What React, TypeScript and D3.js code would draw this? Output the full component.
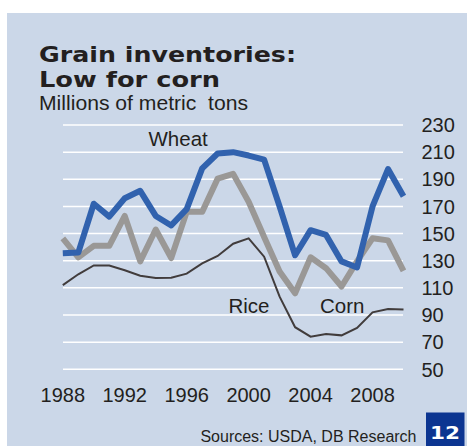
import React, { useEffect, useRef } from "react";
import * as d3 from "d3";

const years = d3.range(1988, 2011);
const wheat = [135.5, 136, 172, 162.5, 176, 181.5, 163, 156, 168, 198, 209, 210, 207.5, 204.5, 170, 134, 152.5, 149, 129.5, 125, 170, 197.5, 177.5];
const corn = [146.5, 132.5, 141, 141, 163, 129.5, 153, 132, 166, 166, 190.5, 194, 173.5, 147.5, 122, 106, 132.5, 124.5, 111, 129.5, 146.5, 145, 122.5];
const rice = [112, 120, 126.5, 126.5, 123, 119, 117.3, 117.5, 120.5, 128, 133.5, 142.5, 146.5, 133, 103.5, 81, 74, 76, 75, 80.5, 92, 94.5, 94];
const yTicks = [230, 210, 190, 170, 150, 130, 110, 90, 70, 50];
const xTicks = [1988, 1992, 1996, 2000, 2004, 2008];

export default function App() {
  const ref = useRef(null);

  useEffect(() => {
    const width = 467;
    const height = 446;
    d3.select(ref.current).select("svg").remove();

    const svg = d3
      .select(ref.current)
      .append("svg")
      .attr("width", width)
      .attr("height", height)
      .style("position", "absolute")
      .style("left", 0)
      .style("top", 0)
      .style("font-family", "'Liberation Sans', Arial, sans-serif");

    svg.append("rect").attr("width", width).attr("height", height).attr("fill", "#ffffff");
    svg.append("rect").attr("x", 7).attr("y", 13).attr("width", width - 7).attr("height", height - 13).attr("fill", "#cbd7e8");

    const x = d3.scaleLinear().domain([1988, 2010]).range([62.8, 403.5]);
    const y = d3.scaleLinear().domain([50, 230]).range([369.3, 125]);

    // gridlines
    svg
      .selectAll("line.grid")
      .data(yTicks)
      .enter()
      .append("line")
      .attr("x1", 63)
      .attr("x2", 403)
      .attr("y1", (d) => y(d))
      .attr("y2", (d) => y(d))
      .attr("stroke", "#ffffff")
      .attr("stroke-width", 1.5);

    // y labels
    svg
      .selectAll("text.ytick")
      .data(yTicks)
      .enter()
      .append("text")
      .attr("x", 421.5)
      .attr("y", (d) => y(d))
      .attr("dy", "0.36em")
      .attr("font-size", 20)
      .attr("fill", "#231f20")
      .text((d) => d);

    // x labels
    svg
      .selectAll("text.xtick")
      .data(xTicks)
      .enter()
      .append("text")
      .attr("x", (d) => x(d))
      .attr("y", 402)
      .attr("text-anchor", "middle")
      .attr("font-size", 20)
      .attr("fill", "#231f20")
      .text((d) => d);

    const line = d3
      .line<number>()
      .x((_, i) => x(years[i]))
      .y((d) => y(d));

    svg.append("path").attr("d", line(rice)).attr("fill", "none").attr("stroke", "#413c3c").attr("stroke-width", 2);
    svg.append("path").attr("d", line(corn)).attr("fill", "none").attr("stroke", "#9a9896").attr("stroke-width", 6).attr("stroke-linejoin", "round");
    svg.append("path").attr("d", line(wheat)).attr("fill", "none").attr("stroke", "#3162ae").attr("stroke-width", 6).attr("stroke-linejoin", "round");

    // series labels
    const labels = [
      { t: "Wheat", x: 148.5, y: 146 },
      { t: "Rice", x: 228.5, y: 313.3 },
      { t: "Corn", x: 320, y: 313.3 },
    ];
    labels.forEach((l) => {
      svg.append("text").attr("x", l.x).attr("y", l.y).attr("font-size", 20.5).attr("fill", "#231f20").text(l.t);
    });

    // title
    svg
      .append("text")
      .attr("x", 39)
      .attr("y", 62)
      .attr("font-family", "'DejaVu Sans', sans-serif")
      .attr("font-weight", "bold")
      .attr("font-size", 22)
      .attr("textLength", 257)
      .attr("lengthAdjust", "spacingAndGlyphs")
      .attr("fill", "#231f20")
      .text("Grain inventories:");
    svg
      .append("text")
      .attr("x", 39)
      .attr("y", 86.5)
      .attr("font-family", "'DejaVu Sans', sans-serif")
      .attr("font-weight", "bold")
      .attr("font-size", 22)
      .attr("textLength", 181)
      .attr("lengthAdjust", "spacingAndGlyphs")
      .attr("fill", "#231f20")
      .text("Low for corn");
    svg
      .append("text")
      .attr("x", 39)
      .attr("y", 110)
      .attr("font-size", 20)
      .attr("textLength", 209)
      .attr("lengthAdjust", "spacingAndGlyphs")
      .attr("fill", "#231f20")
      .style("white-space", "pre")
      .text("Millions of metric  tons");

    // source
    svg
      .append("text")
      .attr("x", 416.5)
      .attr("y", 441.5)
      .attr("text-anchor", "end")
      .attr("font-size", 16)
      .attr("fill", "#231f20")
      .text("Sources: USDA, DB Research");

    svg.append("rect").attr("x", 426).attr("y", 412.5).attr("width", 38.5).attr("height", height - 412.5).attr("fill", "#0c3591");
    svg
      .append("text")
      .attr("x", 430)
      .attr("y", 439.3)
      .attr("font-family", "'DejaVu Sans', sans-serif")
      .attr("font-weight", "bold")
      .attr("font-size", 17.5)
      .attr("textLength", 30)
      .attr("lengthAdjust", "spacingAndGlyphs")
      .attr("fill", "#ffffff")
      .text("12");
  }, []);

  return <div ref={ref}></div>;
}
